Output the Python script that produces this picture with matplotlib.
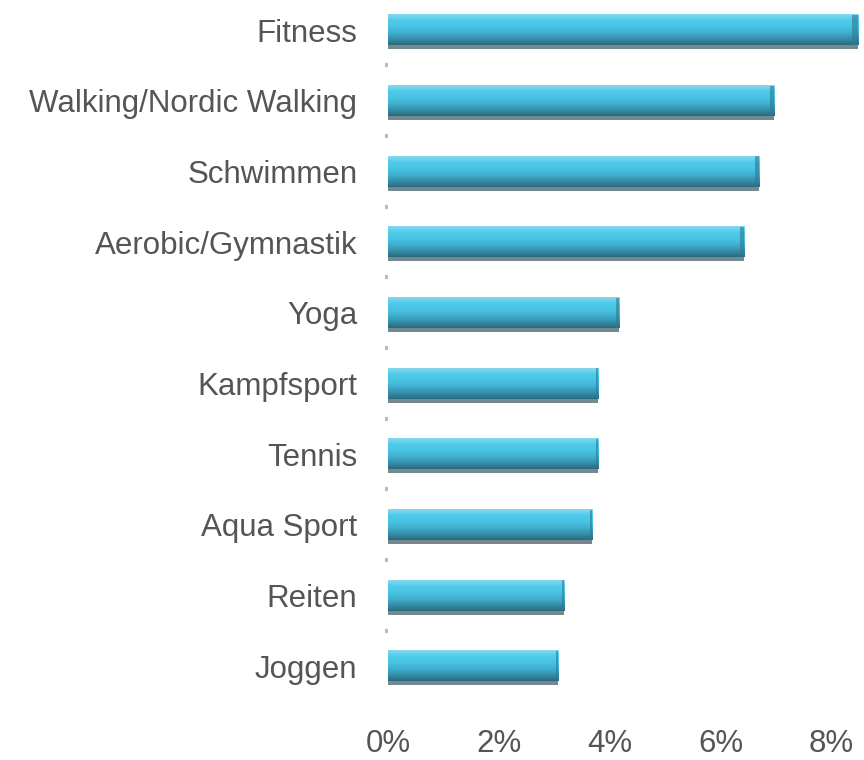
import numpy as np
import matplotlib
matplotlib.use("Agg")
import matplotlib.pyplot as plt
import matplotlib.transforms as mtransforms
from matplotlib.colors import LinearSegmentedColormap

categories = ["Fitness", "Walking/Nordic Walking", "Schwimmen", "Aerobic/Gymnastik",
              "Yoga", "Kampfsport", "Tennis", "Aqua Sport", "Reiten", "Joggen"]
values = [8.48, 6.97, 6.70, 6.43, 4.17, 3.79, 3.79, 3.68, 3.18, 3.07]
xticks = [0, 2, 4, 6, 8]
xticklabels = ["0%", "2%", "4%", "6%", "8%"]

plt.rcParams['font.family'] = ['Liberation Sans', 'DejaVu Sans']

fig = plt.figure(figsize=(8.64, 7.6), dpi=100)
ax = fig.add_axes([388/864, 60/760, (862-388)/864, 700/760])

n = len(categories)
ypos = np.arange(n)[::-1]
h = 0.43

# shadow bars
shadow_tr = mtransforms.offset_copy(ax.transData, fig=fig, x=0, y=-4, units='dots')
ax.barh(ypos, values, height=h, color='#74888f', transform=shadow_tr, zorder=2)
bars = ax.barh(ypos, values, height=h, color='none', zorder=3)

cmap = LinearSegmentedColormap.from_list('g', ['#2a6a7e', '#3690ab', '#41b0d0', '#49c3e4', '#4ecbea', '#86d8ee'])
grad = np.linspace(0, 1, 64).reshape(-1, 1)
for b in bars:
    x0, y0 = b.get_x(), b.get_y()
    w, hh = b.get_width(), b.get_height()
    ax.imshow(grad, cmap=cmap, aspect='auto', origin='lower',
              extent=(x0, x0 + w, y0, y0 + hh), zorder=3, interpolation='bilinear')
    ax.barh(y0 + hh/2, w * 0.012, left=x0 + w * 0.988, height=hh, color='#2d7a92', alpha=0.6, zorder=4)

ax.set_xlim(0, 8.55)
ax.set_ylim(-0.48, 9.425)

ax.set_xticks(xticks)
ax.set_xticklabels(xticklabels, fontsize=22.5, color='#555555')
ax.set_yticks(ypos)
ax.set_yticklabels(categories, fontsize=22.5, color='#555555')
ax.tick_params(axis='x', length=0, pad=21)
ax.tick_params(axis='y', length=0, pad=22)
ax.set_yticks(np.arange(n - 1) + 0.5, minor=True)
ax.tick_params(axis='y', which='minor', length=2, width=3, color='#bbbbbb')

for s in ax.spines.values():
    s.set_visible(False)

fig.savefig('out.png', dpi=100)
